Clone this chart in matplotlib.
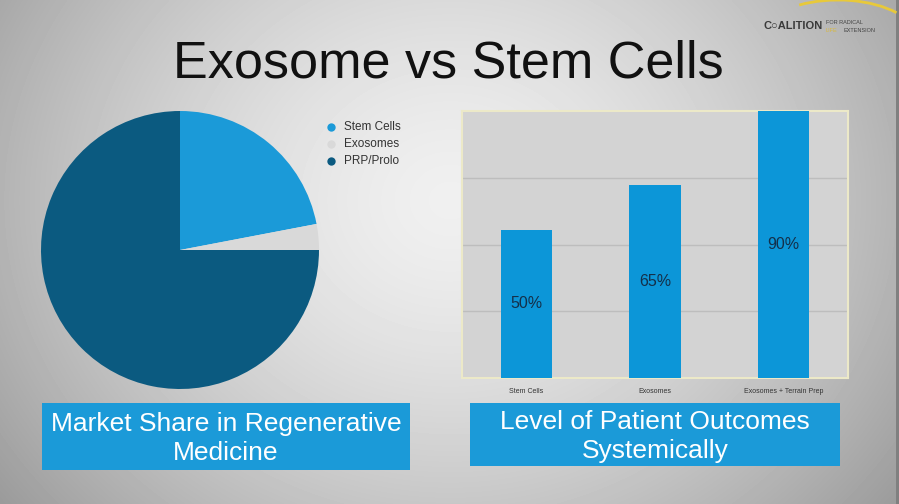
import numpy as np
import matplotlib.pyplot as plt
from matplotlib.patches import FancyBboxPatch, Arc

plt.rcParams["font.family"] = ["Liberation Sans", "DejaVu Sans"]

# pie data (clockwise from 12 o'clock)
pie_labels = ["Stem Cells", "Exosomes", "PRP/Prolo"]
pie_shares = [22, 3, 75]
pie_colors = ["#1b9ad8", "#d9d9d9", "#0b5a80"]

# bar data
bar_labels = ["Stem Cells", "Exosomes", "Exosomes + Terrain Prep"]
bar_values = [50, 65, 90]
bar_text = ["50%", "65%", "90%"]

W, H = 899, 504
fig = plt.figure(figsize=(W / 100, H / 100), dpi=100)


def fig_rect(x0, y0, x1, y1):
    """pixel box (top-left origin) -> figure fraction rect"""
    return [x0 / W, 1 - y1 / H, (x1 - x0) / W, (y1 - y0) / H]


# grey slide background, lighter in the middle
bg = fig.add_axes([0, 0, 1, 1])
yy, xx = np.mgrid[0:H, 0:W]
d = np.sqrt(((xx - 450) / 480.0) ** 2 + ((yy - 200) / 420.0) ** 2)
shade = np.clip(0.94 - 0.26 * d ** 1.5, 0.6, 0.94)
shade[:, -3:] = 0.5
bg.imshow(shade, cmap="gray", vmin=0, vmax=1, aspect="auto",
          extent=[0, W, H, 0])
bg.set_xlim(0, W)
bg.set_ylim(H, 0)
bg.axis("off")

# title
bg.text(448, 64, "Exosome vs Stem Cells", fontsize=37.5, color="#111111",
        ha="center", va="center")

# logo
bg.add_patch(Arc((838, 40), 160, 80, theta1=222, theta2=335,
                 color="#e8c93a", lw=2))
bg.text(763, 26, "C\u25cbALITION", fontsize=8, color="#3a3a3a",
        ha="left", va="center", fontweight="bold")
bg.text(826, 22, "FOR RADICAL", fontsize=4, color="#444444", va="center")
bg.text(826, 31, "LIFE", fontsize=4, color="#d9b83a", va="center")
bg.text(843, 31, "EXTENSION", fontsize=4, color="#444444", va="center")

# caption boxes
for x0, x1, y0, y1, txt in [(42, 410, 403, 470,
                             "Market Share in Regenerative\nMedicine"),
                            (470, 840, 403, 466,
                             "Level of Patient Outcomes\nSystemically")]:
    bg.add_patch(FancyBboxPatch((x0, y0), x1 - x0, y1 - y0,
                                boxstyle="square,pad=0", fc="#1b9ad8",
                                ec="none"))
    bg.text((x0 + x1) / 2, (y0 + y1) / 2 + 2, txt, fontsize=19,
            color="white", ha="center", va="center", linespacing=1.22)

# pie
pax = fig.add_axes(fig_rect(41, 111, 319, 389))
pax.pie(pie_shares, colors=pie_colors, startangle=90, counterclock=False,
        radius=1, wedgeprops=dict(linewidth=0))
pax.set_xlim(-1, 1)
pax.set_ylim(-1, 1)
pax.set_aspect("auto")
pax.axis("off")

# legend
for i, (lab, col) in enumerate(zip(pie_labels, pie_colors)):
    y = 127 + i * 17
    bg.plot(331, y, "o", ms=6, color=col, mec="none")
    bg.text(344, y, lab, fontsize=8.5, color="#333333", va="center")

# bar chart
bax = fig.add_axes(fig_rect(462, 111, 848, 378))
bax.set_facecolor("#d3d3d3")
x = np.arange(len(bar_values))
bax.bar(x, bar_values, width=0.4, color="#0c96d8", zorder=3)
bax.set_xlim(-0.5, 2.5)
bax.set_ylim(0, 90)
bax.set_yticks([22.5, 45, 67.5])
bax.grid(axis="y", color="#bdbdbd", lw=1, zorder=1)
bax.tick_params(left=False, labelleft=False, bottom=False)
bax.set_xticks(x)
bax.set_xticklabels(bar_labels, fontsize=5, color="#333333")
for s in bax.spines.values():
    s.set_color("#ece9c8")
    s.set_linewidth(1.5)
for xi, v, t in zip(x, bar_values, bar_text):
    bax.text(xi, v / 2, t, ha="center", va="center", fontsize=11.5,
             color="#14304a", zorder=4)

fig.savefig("out.png", dpi=100)
